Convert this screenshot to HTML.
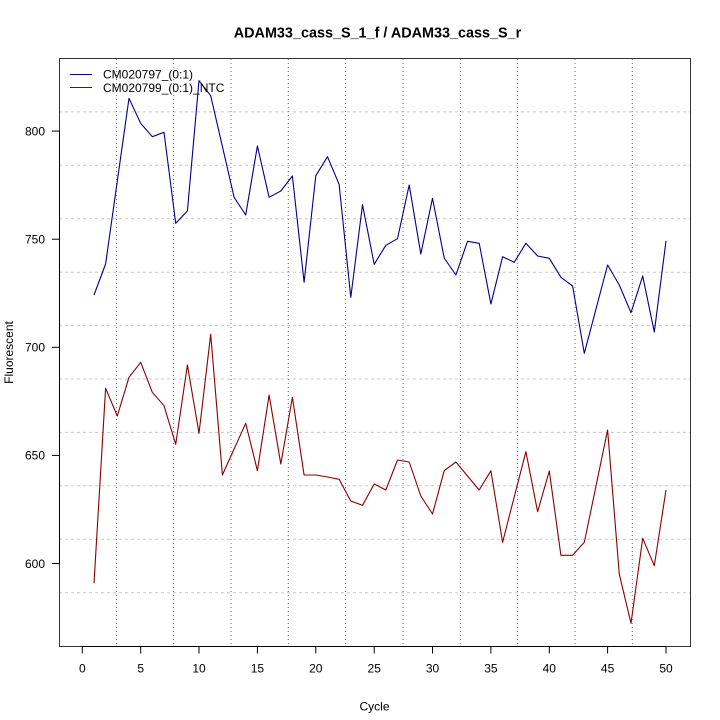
<!DOCTYPE html>
<html><head><meta charset="utf-8"><style>
html,body{margin:0;padding:0;background:#fff;}
svg{display:block;}
text{font-family:"Liberation Sans",Arial,sans-serif;fill:#000;}
</style></head><body>
<svg width="720" height="720" viewBox="0 0 720 720" xmlns="http://www.w3.org/2000/svg">
<rect x="0" y="0" width="720" height="720" fill="#fff"/>
<!-- horizontal grid -->
<g stroke="#c8c8c8" stroke-width="1" stroke-dasharray="3,3" fill="none">
<line x1="59" x2="690" y1="111.9" y2="111.9"/>
<line x1="59" x2="690" y1="165.3" y2="165.3"/>
<line x1="59" x2="690" y1="218.7" y2="218.7"/>
<line x1="59" x2="690" y1="272.2" y2="272.2"/>
<line x1="59" x2="690" y1="325.6" y2="325.6"/>
<line x1="59" x2="690" y1="379.0" y2="379.0"/>
<line x1="59" x2="690" y1="432.4" y2="432.4"/>
<line x1="59" x2="690" y1="485.8" y2="485.8"/>
<line x1="59" x2="690" y1="539.3" y2="539.3"/>
<line x1="59" x2="690" y1="592.7" y2="592.7"/>
</g>
<!-- vertical grid -->
<g stroke="#777" stroke-width="1" stroke-dasharray="1,3" fill="none">
<line y1="59" y2="646" x1="116.5" x2="116.5"/>
<line y1="59" y2="646" x1="173.6" x2="173.6"/>
<line y1="59" y2="646" x1="231" x2="231"/>
<line y1="59" y2="646" x1="288.3" x2="288.3"/>
<line y1="59" y2="646" x1="345.6" x2="345.6"/>
<line y1="59" y2="646" x1="403" x2="403"/>
<line y1="59" y2="646" x1="460.3" x2="460.3"/>
<line y1="59" y2="646" x1="517.6" x2="517.6"/>
<line y1="59" y2="646" x1="575" x2="575"/>
<line y1="59" y2="646" x1="632.3" x2="632.3"/>
</g>
<!-- box -->
<rect x="59.5" y="58.5" width="631" height="588" fill="none" stroke="#333" stroke-width="1"/>
<!-- series blue -->
<polyline fill="none" stroke="#00008b" stroke-width="1.1" stroke-linejoin="round" points="94.0,295 105.6,264 117.3,181 129.0,98.3 140.7,123.3 152.3,136.7 164.0,132.3 175.7,223.3 187.4,211 199.0,80.7 210.7,95.7 222.4,146.5 234.1,197.3 245.7,215 257.4,146 269.1,197.3 280.8,191 292.4,176 304.1,282.3 315.8,175.7 327.5,156.7 339.1,184.3 350.8,297.3 362.5,204.7 374.2,264.3 385.8,245.3 397.5,238.7 409.2,185 420.8,254 432.5,198.3 444.2,258 455.9,275 467.5,241.3 479.2,243.3 490.9,304 502.6,256.7 514.2,262.3 525.9,243.3 537.6,256 549.3,258.3 560.9,277.3 572.6,286 584.3,353.3 596.0,309 607.6,265 619.3,285 631.0,312.7 642.7,276 654.3,332 666.0,241"/>
<!-- series red -->
<polyline fill="none" stroke="#8b0000" stroke-width="1.1" stroke-linejoin="round" points="94.0,583.3 105.6,388.3 117.3,416 129.0,377.3 140.7,362.3 152.3,392.3 164.0,405.7 175.7,444.3 187.4,365 199.0,433.3 210.7,334.3 222.4,475 234.1,449 245.7,423.3 257.4,470.7 269.1,395 280.8,464 292.4,397.3 304.1,475 315.8,475 327.5,477 339.1,479.3 350.8,501 362.5,505.3 374.2,484 385.8,490 397.5,460 409.2,462 420.8,496 432.5,514 444.2,470.7 455.9,462 467.5,476 479.2,490 490.9,470.7 502.6,542.3 514.2,497 525.9,451.7 537.6,511.7 549.3,471 560.9,555.3 572.6,555.3 584.3,542.3 596.0,486 607.6,430 619.3,574.3 631.0,623.3 642.7,538.3 654.3,565.7 666.0,490"/>
<!-- axes -->
<g stroke="#000" stroke-width="1" fill="none">
<line x1="59.5" y1="131.1" x2="59.5" y2="563.5"/>
<line x1="52" y1="563.5" x2="59.5" y2="563.5"/>
<line x1="52" y1="455.4" x2="59.5" y2="455.4"/>
<line x1="52" y1="347.3" x2="59.5" y2="347.3"/>
<line x1="52" y1="239.2" x2="59.5" y2="239.2"/>
<line x1="52" y1="131.1" x2="59.5" y2="131.1"/>
<line x1="82.3" y1="646.5" x2="666" y2="646.5"/>
<line x1="82.3" y1="646.5" x2="82.3" y2="653.5"/>
<line x1="140.7" y1="646.5" x2="140.7" y2="653.5"/>
<line x1="199.0" y1="646.5" x2="199.0" y2="653.5"/>
<line x1="257.4" y1="646.5" x2="257.4" y2="653.5"/>
<line x1="315.8" y1="646.5" x2="315.8" y2="653.5"/>
<line x1="374.2" y1="646.5" x2="374.2" y2="653.5"/>
<line x1="432.5" y1="646.5" x2="432.5" y2="653.5"/>
<line x1="490.9" y1="646.5" x2="490.9" y2="653.5"/>
<line x1="549.3" y1="646.5" x2="549.3" y2="653.5"/>
<line x1="607.6" y1="646.5" x2="607.6" y2="653.5"/>
<line x1="666.0" y1="646.5" x2="666.0" y2="653.5"/>
</g>
<!-- y tick labels -->
<g font-size="12" text-anchor="end">
<text x="45" y="567.8">600</text>
<text x="45" y="459.7">650</text>
<text x="45" y="351.6">700</text>
<text x="45" y="243.5">750</text>
<text x="45" y="135.4">800</text>
</g>
<!-- x tick labels -->
<g font-size="12" text-anchor="middle">
<text x="82.3" y="672.5">0</text>
<text x="140.7" y="672.5">5</text>
<text x="199.0" y="672.5">10</text>
<text x="257.4" y="672.5">15</text>
<text x="315.8" y="672.5">20</text>
<text x="374.2" y="672.5">25</text>
<text x="432.5" y="672.5">30</text>
<text x="490.9" y="672.5">35</text>
<text x="549.3" y="672.5">40</text>
<text x="607.6" y="672.5">45</text>
<text x="666.0" y="672.5">50</text>
</g>
<text x="374.5" y="710.5" font-size="12" text-anchor="middle">Cycle</text>
<text transform="translate(13,352.5) rotate(-90)" font-size="12" text-anchor="middle">Fluorescent</text>
<text x="377.5" y="37.7" font-size="14.4" font-weight="bold" text-anchor="middle">ADAM33_cass_S_1_f / ADAM33_cass_S_r</text>
<!-- legend -->
<line x1="70" y1="74.5" x2="92" y2="74.5" stroke="#00008b" stroke-width="1"/>
<line x1="70" y1="87.5" x2="92" y2="87.5" stroke="#8b0000" stroke-width="1"/>
<text x="103" y="78.7" font-size="12">CM020797_(0:1)</text>
<text x="103" y="91.8" font-size="12">CM020799_(0:1)_NTC</text>
</svg>
</body></html>
